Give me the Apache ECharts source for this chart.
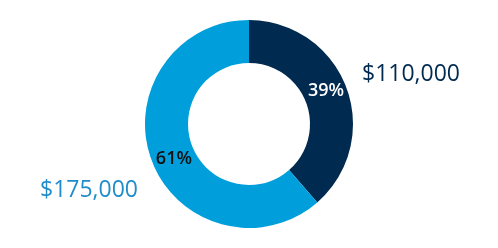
<!DOCTYPE html>
<html><head><meta charset="utf-8">
<script src="https://cdn.jsdelivr.net/npm/echarts@6/dist/echarts.min.js"></script>
<style>html,body{margin:0;padding:0;background:#fff}#c{width:498px;height:248px}</style>
</head><body><div id="c"></div>
<script>
const categories = ['A', 'B'];
const values = [110000, 175000];
const valueLabels = ['$110,000', '$175,000'];
const colors = ['#002a4f', '#009fdc'];
const labelColors = ['#002a4f', '#1f8ccb'];
const pctColors = ['#ffffff', '#111111'];

const chart = echarts.init(document.getElementById('c'));
const total = values.reduce((a, b) => a + b, 0);
chart.setOption({
  animation: false,
  series: [{
    type: 'pie',
    center: [249, 124],
    radius: [61, 104],
    startAngle: 90,
    clockwise: true,
    data: categories.map((c, i) => ({ name: c, value: values[i], itemStyle: { color: colors[i] },
      label: { color: pctColors[i] } })),
    label: {
      position: 'inside',
      fontFamily: 'Open Sans',
      fontWeight: 600,
      fontSize: 18,
      formatter: p => Math.round(p.value / total * 100) + '%'
    },
    labelLayout: function (p) {
      return p.dataIndex === 0 ? { dx: -3, dy: -3 } : { dx: 5, dy: 5 };
    },
    emphasis: { disabled: true }
  }, {
    type: 'pie',
    center: [249, 124],
    radius: [61, 104],
    startAngle: 90,
    silent: true,
    data: categories.map((c, i) => ({ name: c, value: values[i], itemStyle: { color: 'transparent' },
      label: { color: labelColors[i] } })),
    label: {
      position: 'outside',
      fontFamily: 'Open Sans',
      fontSize: 23,
      overflow: 'none',
      width: 300,
      formatter: p => valueLabels[p.dataIndex]
    },
    labelLine: { show: false },
    labelLayout: function (p) {
      return p.dataIndex === 0
        ? { x: 362, y: 74, align: 'left', verticalAlign: 'middle' }
        : { x: 40, y: 190, align: 'left', verticalAlign: 'middle' };
    }
  }]
});
</script></body></html>
